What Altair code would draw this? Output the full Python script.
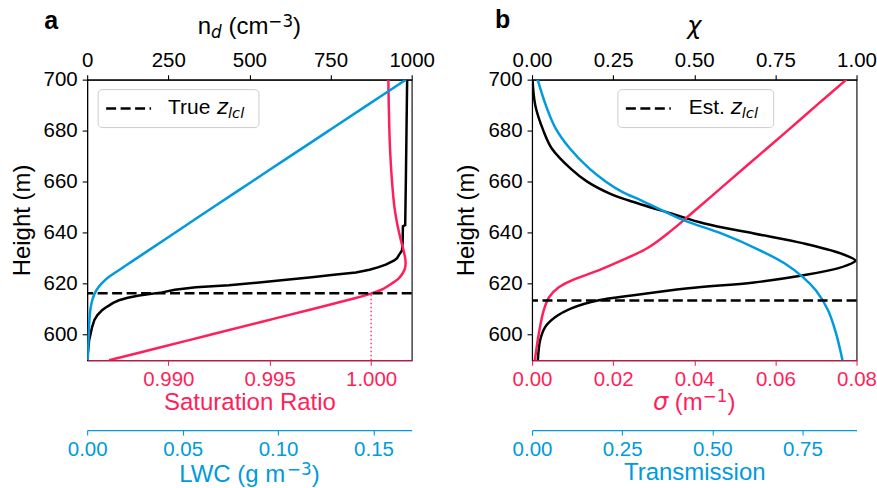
import altair as alt
import pandas as pd

PINK = "#FF1F5B"
BLUE = "#009ADE"
SANS = "Liberation Sans"
MATH = "DejaVu Sans"

# ---------------- Panel a data ----------------
nd_h = [590, 594, 597.8, 600, 602.9, 605.7, 607.6, 609.6, 610.5, 611.5, 612.5, 613.5, 614.5,
        615.4, 616.6, 617.6, 618.6, 619.4, 620.5, 621.3, 622.5, 623.5, 624.4, 625.5, 626.5,
        627.5, 629, 630, 631.5, 633, 636, 642.5, 643, 660, 680, 700]
nd_v = [0, 3, 6, 10, 15, 22, 31, 46, 55, 68, 80, 98, 125,
        160, 231, 270, 335, 437, 530, 591, 692, 760, 828, 870, 898,
        920, 945, 955, 962, 970, 972, 973, 980, 982, 984, 986]

sr_h = [590, 595, 600, 605, 610, 614, 616, 618, 620, 622, 624, 626, 628, 630, 633, 636,
        640, 645, 650, 660, 670, 680, 690, 700]
sr_v = [0.98708, 0.98958, 0.99208, 0.99458, 0.99708, 0.99905, 0.99995, 1.00060, 1.00100,
        1.00135, 1.00155, 1.00167, 1.00170, 1.00168, 1.00160, 1.00150, 1.00138, 1.00125,
        1.00115, 1.00103, 1.00095, 1.00090, 1.00087, 1.00085]

lwc_h = [590, 600, 606, 610, 613, 615, 617, 618.5, 620, 621.5, 623, 625, 628, 632, 640, 650,
         660, 670, 680, 690, 700]
lwc_v = [0.0003, 0.0008, 0.0012, 0.0017, 0.0025, 0.0033, 0.0045, 0.0058, 0.0075, 0.0095,
         0.0120, 0.0160, 0.0220, 0.0300, 0.0460, 0.0660, 0.0862, 0.1064, 0.1266, 0.1468, 0.1670]

true_zlcl = 616.3

# ---------------- Panel b data ----------------
chi_h = [590, 597.8, 602.9, 606.8, 610.4, 613.5, 615.4, 618.2, 620.5, 623.3, 626, 628.4,
         629.1, 631.9, 635.8, 639.7, 643.6, 647.5, 652.6, 655, 660, 665, 673, 680, 690, 700]
chi_v = [0.018, 0.025, 0.040, 0.071, 0.123, 0.206, 0.307, 0.482, 0.684, 0.837, 0.942, 0.991,
         0.997, 0.951, 0.837, 0.684, 0.531, 0.429, 0.298, 0.245, 0.170, 0.120, 0.061, 0.035,
         0.010, 0.0015]

sig_h = [590, 600.6, 609.6, 614.7, 618.6, 621.3, 625.2, 629.1, 634.2, 640.9, 647.5,
         660, 670, 680, 690, 700]
sig_v = [0.0007, 0.0017, 0.0029, 0.0042, 0.0066, 0.0098, 0.0164, 0.0221, 0.0287, 0.0344,
         0.0393, 0.0484, 0.0557, 0.0630, 0.0702, 0.0775]

tr_h = [590, 600.6, 609.6, 617.4, 622.5, 628, 633.1, 639.7, 644.8, 652.6, 656, 660, 665,
        673, 681.2, 690.6, 700]
tr_v = [0.861, 0.843, 0.821, 0.787, 0.752, 0.700, 0.632, 0.525, 0.422, 0.304, 0.25, 0.205,
        0.16, 0.105, 0.0643, 0.0367, 0.0157]

est_zlcl = 613.4

# ---------------- ticks ----------------
h_ticks = [600, 620, 640, 660, 680, 700]
nd_ticks = [0, 250, 500, 750, 1000]
sr_ticks = [0.990, 0.995, 1.000]
lwc_ticks = [0.0, 0.05, 0.10, 0.15]
chi_ticks = [0.0, 0.25, 0.5, 0.75, 1.0]
sig_ticks = [0.0, 0.02, 0.04, 0.06, 0.08]
tr_ticks = [0.0, 0.25, 0.5, 0.75]

W, H = 325, 281
LW = 2.5

AR = {' ': 278, '(': 333, ')': 333, '.': 278, 'E': 667, 'T': 611, 'L': 556, 'W': 944,
      'C': 722, 'a': 556, 'c': 500, 'd': 556, 'e': 556, 'g': 556, 'l': 222, 'm': 833,
      'n': 556, 'r': 333, 's': 500, 't': 278, 'u': 556, 'z': 500}
DV = {'z': 525, 'l': 278, 'c': 550, 'd': 635, '−': 838, '3': 636, '1': 636,
      'σ': 634, 'χ': 592, ' ': 318}


def tw(s, font, size):
    tab = AR if font == SANS else DV
    return sum(tab.get(c, 556) for c in s) * size / 1000.0


def rich(pieces, x0, base, center=True):
    total = sum(tw(p[0], p[1], p[2]) for p in pieces)
    x = x0 - total / 2 if center else x0
    out = []
    for text, font, size, italic, dy, color in pieces:
        lead = text[:len(text) - len(text.lstrip())]
        x += tw(lead, font, size)
        body = text.strip()
        if body:
            out.append(
                alt.Chart(pd.DataFrame({"t": [body]}))
                .mark_text(align="left", baseline="alphabetic", font=font, fontSize=size,
                           fontStyle="italic" if italic else "normal", color=color)
                .encode(x=alt.value(x), y=alt.value(base + dy), text="t:N")
            )
        x += tw(text.lstrip(), font, size)
    return out


def label(txt, x, base):
    return (alt.Chart(pd.DataFrame({"t": [txt]}))
            .mark_text(align="left", baseline="alphabetic", font=SANS, fontSize=25,
                       fontWeight="bold", color="black")
            .encode(x=alt.value(x), y=alt.value(base), text="t:N"))


def xaxis(orient, values, fmt, color, offset=0, title=""):
    kw = dict(orient=orient, values=values, format=fmt, labelColor=color, tickColor=color,
              domainColor=color, titleColor=color, labelFont=SANS, labelFontSize=20.5,
              tickSize=5, labelPadding=4, grid=False, title=title, titleFont=SANS,
              titleFontSize=24, titleFontWeight="normal", titlePadding=1, domainWidth=1.1,
              tickWidth=1.1, labelFlush=False, labelOverlap=False)
    if offset:
        kw["offset"] = offset
    return alt.Axis(**kw)


yaxis = alt.Axis(values=h_ticks, title="Height (m)", labelFont=SANS, labelFontSize=20.5,
                 titleFont=SANS, titleFontSize=24, titleFontWeight="normal", titleColor="black",
                 labelColor="black", tickColor="black", domainColor="black", tickSize=5,
                 labelPadding=5, titlePadding=9, grid=False, labelFlush=False,
                 labelOverlap=False, domainWidth=1.1, tickWidth=1.1)


def Y(field="h"):
    return alt.Y(f"{field}:Q", scale=alt.Scale(domain=[590, 700], nice=False, zero=False),
                 axis=yaxis)


def profile(h, v, color, domain, axis, interp="catmull-rom"):
    df = pd.DataFrame({"h": h, "v": v})
    return (alt.Chart(df).mark_line(color=color, strokeWidth=LW, clip=True, interpolate=interp)
            .encode(x=alt.X("v:Q", scale=alt.Scale(domain=domain, nice=False, zero=False),
                            axis=axis),
                    y=Y(), order=alt.Order("h:Q")))


def hline(z):
    return (alt.Chart(pd.DataFrame({"h": [z]}))
            .mark_rule(color="black", strokeWidth=LW, strokeDash=[10, 4.5])
            .encode(y=Y()))


def legend(x1, x2, tx, word):
    box = (alt.Chart(pd.DataFrame({"a": [0]}))
           .mark_rect(fill="white", fillOpacity=0.8, stroke="#cccccc", strokeWidth=1,
                      cornerRadius=4)
           .encode(x=alt.value(x1), x2=alt.value(x2), y=alt.value(10), y2=alt.value(48)))
    samp = (alt.Chart(pd.DataFrame({"a": [0]}))
            .mark_rule(color="black", strokeWidth=LW, strokeDash=[10, 4.5])
            .encode(x=alt.value(x1 + 8), x2=alt.value(x1 + 53), y=alt.value(29)))
    txt = rich([(word, SANS, 21, False, 0, "black"),
                ("z", MATH, 21, True, 0, "black"),
                ("lcl", MATH, 14.7, True, 4, "black")], tx, 34, center=False)
    return [box, samp] + txt


# ---------------- Panel a ----------------
nd_line = profile(nd_h, nd_v, "black", [0, 1000],
                  xaxis("top", nd_ticks, "d", "black"), interp="linear")
sr_line = profile(sr_h, sr_v, PINK, [0.986, 1.002],
                  xaxis("bottom", sr_ticks, ".3f", PINK, title="Saturation Ratio"))
sr_rule = (alt.Chart(pd.DataFrame({"v": [1.0], "h": [590.0], "h2": [true_zlcl]}))
           .mark_rule(color=PINK, strokeWidth=1.3, strokeDash=[1.5, 2.5])
           .encode(x=alt.X("v:Q", scale=alt.Scale(domain=[0.986, 1.002], nice=False, zero=False),
                           axis=xaxis("bottom", sr_ticks, ".3f", PINK, title="Saturation Ratio")),
                   y=Y(), y2="h2:Q"))
sr_group = alt.layer(sr_rule, sr_line).resolve_scale(x="shared")
lwc_line = profile(lwc_h, lwc_v, BLUE, [0, 0.17],
                   xaxis("bottom", lwc_ticks, ".2f", BLUE, offset=70))

a_texts = (rich([("n", SANS, 24, False, 0, "black"), ("d", MATH, 16.8, True, 4, "black"),
                 (" (cm", SANS, 24, False, 0, "black"), ("−3", MATH, 16.8, False, -7, "black"),
                 (")", SANS, 24, False, 0, "black")], W / 2, -46)
           + rich([("LWC (g m", SANS, 24, False, 0, BLUE), ("−3", MATH, 16.8, False, -7, BLUE),
                   (")", SANS, 24, False, 0, BLUE)], W / 2, 403)
           + [label("a", -43, -51)])

panel_a = alt.layer(nd_line, sr_group, lwc_line, hline(true_zlcl),
                    *legend(11, 172, 81, "True "), *a_texts
                    ).resolve_scale(x="independent").properties(width=W, height=H)

# ---------------- Panel b ----------------
chi_line = profile(chi_h, chi_v, "black", [0, 1], xaxis("top", chi_ticks, ".2f", "black"))
sig_line = profile(sig_h, sig_v, PINK, [0, 0.08], xaxis("bottom", sig_ticks, ".2f", PINK))
tr_line = profile(tr_h, tr_v, BLUE, [0, 0.9],
                  xaxis("bottom", tr_ticks, ".2f", BLUE, offset=70, title="Transmission"))

b_texts = (rich([("χ", MATH, 24, True, 0, "black")], W / 2, -46)
           + rich([("σ", MATH, 24, True, 0, PINK), (" (m", SANS, 24, False, 0, PINK),
                   ("−1", MATH, 16.8, False, -8, PINK), (")", SANS, 24, False, 0, PINK)],
                  W / 2, 331)
           + [label("b", -37, -52)])

panel_b = alt.layer(chi_line, sig_line, tr_line, hline(est_zlcl),
                    *legend(86, 242, 157, "Est. "), *b_texts
                    ).resolve_scale(x="independent").properties(width=W, height=H)

chart = (alt.hconcat(panel_a, panel_b, spacing=18.5)
         .properties(padding={"left": 9.3, "top": 6.4, "right": 0, "bottom": 0},
                     background="white")
         .configure_view(stroke="black", strokeWidth=1.1))

chart.save("out.html", embed_options={"renderer": "svg", "actions": False})
